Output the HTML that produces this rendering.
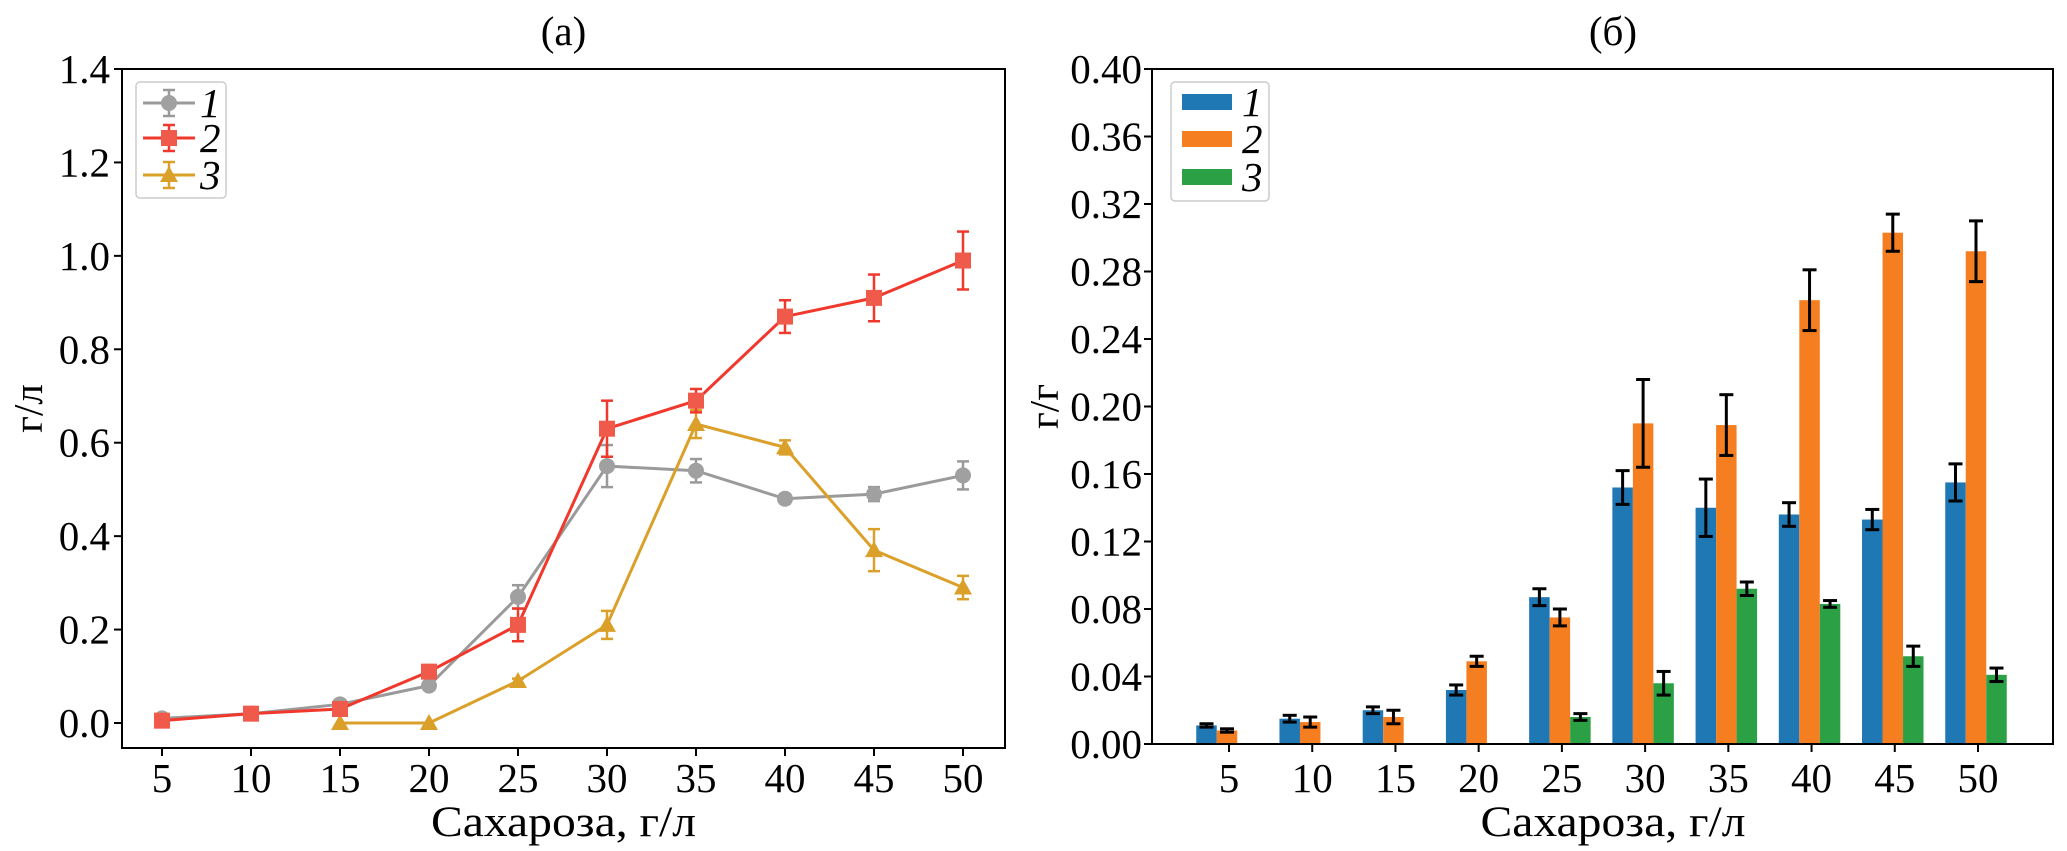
<!DOCTYPE html>
<html><head><meta charset="utf-8"><style>
body{margin:0;background:#fff;}
svg{display:block;font-family:"Liberation Serif",serif;}
</style></head><body>
<svg id="chart" width="2067" height="851" viewBox="0 0 2067 851"></svg>
<script>
// ---- data panel (a)
const catsA = [5,10,15,20,25,30,35,40,45,50];
const a1 = [0.01,0.02,0.04,0.08,0.27,0.55,0.54,0.48,0.49,0.53];
const a1err = [0.005,0.005,0.005,0.005,0.025,0.045,0.025,0.01,0.015,0.03];
const a2 = [0.005,0.02,0.03,0.11,0.21,0.63,0.69,0.87,0.91,0.99];
const a2err = [0.005,0.005,0.01,0.01,0.035,0.06,0.025,0.035,0.05,0.062];
const a3cats = [15,20,25,30,35,40,45,50];
const a3 = [0,0,0.09,0.21,0.64,0.59,0.37,0.29];
const a3err = [0,0,0.005,0.03,0.03,0.015,0.045,0.025];
const yTicksA = ["0.0","0.2","0.4","0.6","0.8","1.0","1.2","1.4"];
// ---- data panel (b)
const catsB = [5,10,15,20,25,30,35,40,45,50];
const b1 = [0.011,0.015,0.020,0.032,0.087,0.152,0.140,0.136,0.133,0.155];
const b1err = [0.001,0.002,0.002,0.003,0.005,0.010,0.017,0.007,0.006,0.011];
const b2 = [0.008,0.013,0.016,0.049,0.075,0.190,0.189,0.263,0.303,0.292];
const b2err = [0.001,0.003,0.004,0.003,0.005,0.026,0.018,0.018,0.011,0.018];
const b3 = [0,0,0,0,0.016,0.036,0.092,0.083,0.052,0.041];
const b3err = [0,0,0,0,0.002,0.007,0.004,0.002,0.006,0.004];
const yTicksB = ["0.00","0.04","0.08","0.12","0.16","0.20","0.24","0.28","0.32","0.36","0.40"];

const NS="http://www.w3.org/2000/svg";
const svg=document.getElementById('chart');
const FS=41;
function mk(tag,attrs,parent){const e=document.createElementNS(NS,tag);for(const k in attrs)e.setAttribute(k,attrs[k]);(parent||svg).appendChild(e);return e;}
function txt(s,x,y,size,anchor,parent,extra){const t=mk('text',Object.assign({x:x,y:y,'font-size':size,'text-anchor':anchor||'middle',fill:'#000'},extra||{}),parent);t.textContent=s;return t;}

// ===== Panel A
const A={l:122,r:1005,t:69,b:748,y0:723,y1:69,ymax:1.4,x5:162,x50:963};
const xA=v=>A.x5+(v-5)*(A.x50-A.x5)/45;
const yA=v=>A.y0-(v/A.ymax)*(A.y0-A.y1);
const gA=mk('g',{});


const tA=txt('(a)',(A.l+A.r)/2,45,FS,'middle',gA);


yTicksA.forEach(s=>{const y=yA(parseFloat(s));mk('line',{x1:A.l-8,x2:A.l,y1:y,y2:y,stroke:'#000','stroke-width':2},gA);
 const t=txt(s,A.l-12,y+14,FS,'end',gA);});
catsA.forEach(c=>{const x=xA(c);mk('line',{x1:x,x2:x,y1:A.b,y2:A.b+8,stroke:'#000','stroke-width':2},gA);
 const t=txt(String(c),x,792,FS,'middle',gA);});
const xlA=txt('Сахароза, г/л',(A.l+A.r)/2,836,43,'middle',gA,{textLength:265,lengthAdjust:'spacingAndGlyphs'});

const ylA=txt('г/л',0,0,FS,'middle',gA,{transform:'translate(42,'+((A.t+A.b)/2)+') rotate(-90)'});


function series(cats,vals,errs,color,mcol,marker,name){
 const g=mk('g',{},gA);
 
 
 mk('polyline',{points:cats.map((c,i)=>xA(c)+','+yA(vals[i])).join(' '),fill:'none',stroke:color,'stroke-width':3},g);
 cats.forEach((c,i)=>{const x=xA(c),y=yA(vals[i]),yt=yA(vals[i]+errs[i]),yb=yA(vals[i]-errs[i]);
  if(errs[i]>0){mk('line',{x1:x,x2:x,y1:yt,y2:yb,stroke:color,'stroke-width':2.5},g);
   mk('line',{x1:x-6,x2:x+6,y1:yt,y2:yt,stroke:color,'stroke-width':2.5},g);
   mk('line',{x1:x-6,x2:x+6,y1:yb,y2:yb,stroke:color,'stroke-width':2.5},g);}
  drawMarker(marker,x,y,mcol,g);});
}
function drawMarker(m,x,y,col,g){
 if(m==='o')mk('circle',{cx:x,cy:y,r:8,fill:col},g);
 else if(m==='s')mk('rect',{x:x-8,y:y-8,width:16,height:16,fill:col},g);
 else mk('polygon',{points:`${x},${y-9} ${x+9},${y+7} ${x-9},${y+7}`,fill:col},g);
}
series(catsA,a1,a1err,'#9a9a9a','#a0a0a0','o','series-1-line');
series(a3cats,a3,a3err,'#dba02a','#dba02a','^','series-3-line');
series(catsA,a2,a2err,'#f0382c','#f05a4a','s','series-2-line');
mk('rect',{x:A.l,y:A.t,width:A.r-A.l,height:A.b-A.t,fill:'none',stroke:'#000','stroke-width':2},gA);
// legend A
const lgA=mk('g',{},gA);

mk('rect',{x:136,y:82,width:90,height:116,rx:4,fill:'#fff',stroke:'#ccc','stroke-width':1.5},lgA);
[['1','#9a9a9a','#a0a0a0','o',103],['2','#f0382c','#f05a4a','s',138],['3','#dba02a','#dba02a','^',175]].forEach(e=>{
 const g=mk('g',{},lgA);
 mk('line',{x1:143,x2:195,y1:e[4],y2:e[4],stroke:e[1],'stroke-width':3},g);
 mk('line',{x1:169,x2:169,y1:e[4]-13,y2:e[4]+13,stroke:e[1],'stroke-width':2.5},g);
 mk('line',{x1:163,x2:175,y1:e[4]-13,y2:e[4]-13,stroke:e[1],'stroke-width':2.5},g);
 mk('line',{x1:163,x2:175,y1:e[4]+13,y2:e[4]+13,stroke:e[1],'stroke-width':2.5},g);
 drawMarker(e[3],169,e[4],e[2],g);
 txt(e[0],200,e[4]+14,FS,'start',g,{'font-style':'italic'});});

// ===== Panel B
const B={l:1152,r:2053,t:69,b:744,ymax:0.4,x5:1229,x50:1978};
const xB=v=>B.x5+(v-5)*(B.x50-B.x5)/45;
const yB=v=>B.b-(v/B.ymax)*(B.b-B.t);
const gB=mk('g',{});

const tB=txt('(б)',1613,45,FS,'middle',gB);

yTicksB.forEach(s=>{const y=yB(parseFloat(s));mk('line',{x1:B.l-8,x2:B.l,y1:y,y2:y,stroke:'#000','stroke-width':2},gB);
 const t=txt(s,B.l-10,y+14,FS,'end',gB);});
catsB.forEach(c=>{const x=xB(c);mk('line',{x1:x,x2:x,y1:B.b,y2:B.b+8,stroke:'#000','stroke-width':2},gB);
 const t=txt(String(c),x,792,FS,'middle',gB);});
const xlB=txt('Сахароза, г/л',1613,836,43,'middle',gB,{textLength:265,lengthAdjust:'spacingAndGlyphs'});

const ylB=txt('г/г',0,0,FS,'middle',gB,{transform:'translate(1058,'+((B.t+B.b)/2)+') rotate(-90)'});

const bw=20.5;
[[b1,b1err,'#1f77b4',-1,'bar-series-1'],[b2,b2err,'#f57f20',0,'bar-series-2'],[b3,b3err,'#2ca044',1,'bar-series-3']].forEach(s=>{
 const g=mk('g',{},gB);
 catsB.forEach((c,i)=>{const cx=xB(c)-2+s[3]*bw;const v=s[0][i];
  const r=mk('rect',{x:cx-bw/2,y:yB(v),width:bw,height:Math.max(B.b-yB(v),1),fill:s[2]},g);
  
  if(s[1][i]>0){const yt=yB(v+s[1][i]),yb=yB(v-s[1][i]);
   mk('line',{x1:cx,x2:cx,y1:yt,y2:yb,stroke:'#000','stroke-width':3},g);
   mk('line',{x1:cx-7,x2:cx+7,y1:yt,y2:yt,stroke:'#000','stroke-width':3},g);
   mk('line',{x1:cx-7,x2:cx+7,y1:yb,y2:yb,stroke:'#000','stroke-width':3},g);}});});
mk('rect',{x:B.l,y:B.t,width:B.r-B.l,height:B.b-B.t,fill:'none',stroke:'#000','stroke-width':2},gB);
const lgB=mk('g',{},gB);

mk('rect',{x:1171,y:82,width:98,height:119,rx:4,fill:'#fff',stroke:'#ccc','stroke-width':1.5},lgB);
[['1','#1f77b4',102],['2','#f57f20',139],['3','#2ca044',177]].forEach(e=>{
 const g=mk('g',{},lgB);
 mk('rect',{x:1182,y:e[2]-8,width:50,height:16,fill:e[1]},g);
 txt(e[0],1242,e[2]+14,FS,'start',g,{'font-style':'italic'});});
</script>
</body></html>
